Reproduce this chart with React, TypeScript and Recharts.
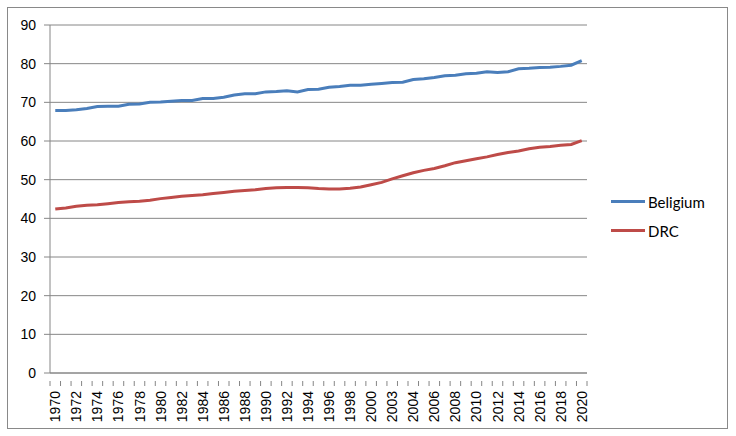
import React from 'react';
import { LineChart, Line, XAxis, YAxis, CartesianGrid, Legend } from 'recharts';

const years = [
    '1970', '1971', '1972', '1973', '1974', '1975', '1976', '1977', '1978', '1979',
    '1980', '1981', '1982', '1983', '1984', '1985', '1986', '1987', '1988', '1989',
    '1990', '1991', '1992', '1993', '1994', '1995', '1996', '1997', '1998', '1999',
    '2000', '2001', '2003', '2003', '2004', '2005', '2006', '2007', '2008', '2009',
    '2010', '2011', '2012', '2013', '2014', '2015', '2016', '2017', '2018', '2019',
    '2020',
];

const belgium = [
    67.9, 67.9, 68.1, 68.4, 68.9, 69.0, 69.0, 69.5, 69.6, 70.0,
    70.1, 70.3, 70.5, 70.5, 71.0, 71.0, 71.3, 71.9, 72.2, 72.2,
    72.7, 72.8, 73.0, 72.7, 73.3, 73.4, 73.9, 74.1, 74.4, 74.4,
    74.7, 74.9, 75.1, 75.2, 75.9, 76.1, 76.4, 76.9, 77.0, 77.4,
    77.5, 77.9, 77.7, 77.9, 78.7, 78.8, 79.0, 79.1, 79.3, 79.6,
    80.8,
];

const drc = [
    42.4, 42.7, 43.1, 43.4, 43.5, 43.8, 44.1, 44.3, 44.4, 44.7,
    45.1, 45.4, 45.7, 45.9, 46.1, 46.4, 46.7, 47.0, 47.2, 47.4,
    47.7, 47.9, 48.0, 48.0, 47.9, 47.7, 47.6, 47.6, 47.8, 48.1,
    48.7, 49.3, 50.2, 51.0, 51.8, 52.4, 52.9, 53.6, 54.4, 54.9,
    55.4, 55.9, 56.5, 57.0, 57.4, 58.0, 58.4, 58.6, 58.9, 59.1,
    60.1,
];

const yTicks = [0, 10, 20, 30, 40, 50, 60, 70, 80, 90];

const data = years.map((year, i) => ({ year, Beligium: belgium[i], DRC: drc[i] }));

const BLUE = '#4A7EBB';
const RED = '#BE4B48';
const GRID = '#868686';
const PLOT_W = 537;
const band = PLOT_W / years.length;

const YearTick = (props: any) => {
    const { x, y, payload } = props;
    const index = props.index ?? payload.index;
    const ty = y + 10;
    return (
        <g>
            <line x1={x - band / 2} x2={x - band / 2} y1={y} y2={y + 5} stroke={GRID} />
            {index === years.length - 1 && (
                <line x1={x + band / 2} x2={x + band / 2} y1={y} y2={y + 5} stroke={GRID} />
            )}
            {index % 2 === 0 && (
                <text
                    x={x}
                    y={ty}
                    transform={`rotate(-90 ${x} ${ty})`}
                    textAnchor="end"
                    dominantBaseline="central"
                    fontSize={14}
                    fill="#000"
                    fontFamily="'Liberation Sans', Arial, sans-serif"
                >
                    {payload.value}
                </text>
            )}
        </g>
    );
};

const LegendBox = () => (
    <div style={{ fontFamily: "Lato, 'Liberation Sans', sans-serif", fontSize: 15, color: '#000' }}>
        {[
            { name: 'Beligium', color: BLUE },
            { name: 'DRC', color: RED },
        ].map((item) => (
            <div key={item.name} style={{ display: 'flex', alignItems: 'center', height: 29 }}>
                <span style={{ display: 'inline-block', width: 34, height: 3, background: item.color, marginRight: 3 }} />
                <span>{item.name}</span>
            </div>
        ))}
    </div>
);

const App: React.FC = () => {
    return (
        <div
            style={{
                position: 'absolute',
                left: 7,
                top: 7,
                width: 721,
                height: 422,
                boxSizing: 'border-box',
                border: '1px solid #898989',
                background: '#fff',
            }}
        >
            <LineChart width={719} height={420} data={data} margin={{ top: 17, right: 140, left: 0, bottom: 0 }}>
                <CartesianGrid vertical={false} stroke={GRID} />
                <XAxis
                    dataKey="year"
                    interval={0}
                    height={55}
                    padding={{ left: band / 2, right: band / 2 }}
                    axisLine={{ stroke: GRID }}
                    tickLine={false}
                    tick={<YearTick />}
                />
                <YAxis
                    width={42}
                    domain={[0, 90]}
                    ticks={yTicks}
                    interval={0}
                    tickSize={6}
                    tickMargin={8}
                    axisLine={{ stroke: GRID }}
                    tickLine={{ stroke: GRID }}
                    tick={{ fill: '#000', fontSize: 14, fontFamily: "'Liberation Sans', Arial, sans-serif" }}
                />
                <Legend
                    layout="vertical"
                    align="center"
                    verticalAlign="middle"
                    wrapperStyle={{ left: 603, top: 179, width: 110 }}
                    content={<LegendBox />}
                />
                <Line type="linear" dataKey="Beligium" stroke={BLUE} strokeWidth={3} dot={false} isAnimationActive={false} />
                <Line type="linear" dataKey="DRC" stroke={RED} strokeWidth={3} dot={false} isAnimationActive={false} />
            </LineChart>
        </div>
    );
};

export default App;
